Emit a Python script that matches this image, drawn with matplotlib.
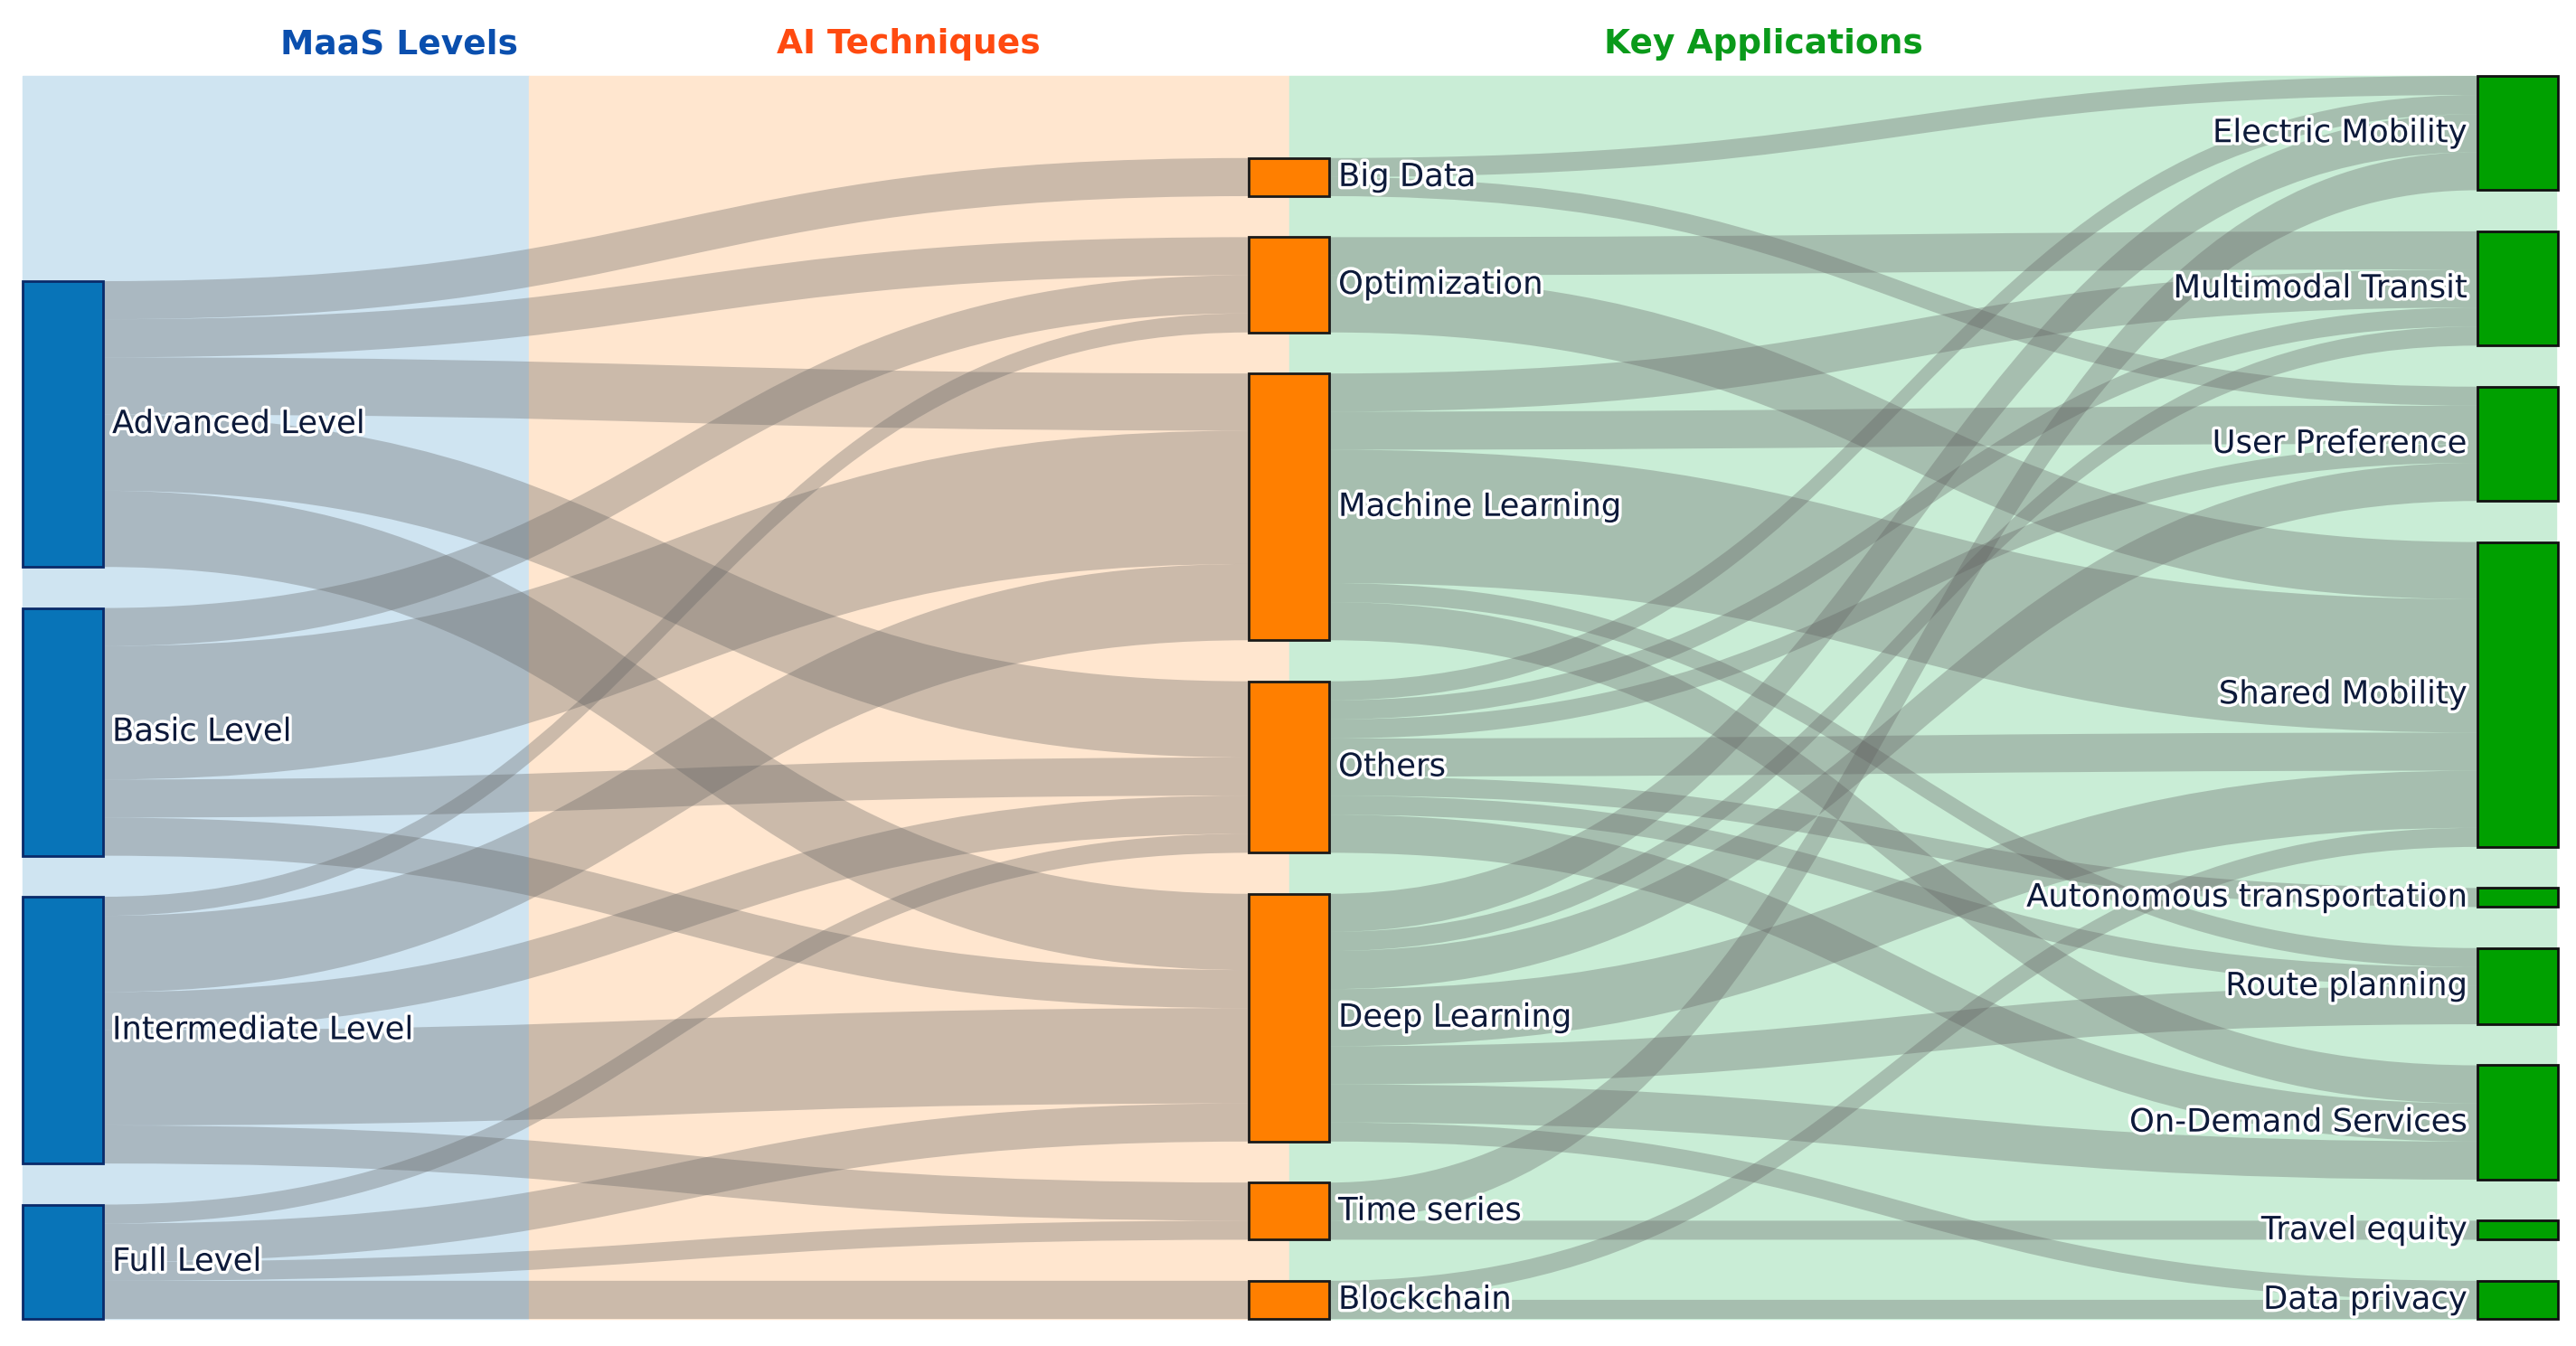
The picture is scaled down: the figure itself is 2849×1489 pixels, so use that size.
import numpy as np
import matplotlib.pyplot as plt
from matplotlib.patches import Rectangle, PathPatch
from matplotlib.path import Path
import matplotlib.patheffects as pe

W, H = 2849, 1489

# ---- data -------------------------------------------------------------
titles = ["MaaS Levels", "AI Techniques", "Key Applications"]
levels = ["Advanced Level", "Basic Level", "Intermediate Level", "Full Level"]
techniques = ["Big Data", "Optimization", "Machine Learning", "Others",
              "Deep Learning", "Time series", "Blockchain"]
applications = ["Electric Mobility", "Multimodal Transit", "User Preference",
                "Shared Mobility", "Autonomous transportation", "Route planning",
                "On-Demand Services", "Travel equity", "Data privacy"]

# MaaS level -> AI technique (rows: levels, cols: techniques)
level_tech = [
    [2, 2, 3, 4, 4, 0, 0],
    [0, 2, 7, 2, 2, 0, 0],
    [0, 1, 4, 2, 5, 2, 0],
    [0, 0, 0, 1, 2, 1, 2],
]
# AI technique -> application (rows: techniques, cols: applications)
tech_app = [
    [1, 0, 1, 0, 0, 0, 0, 0, 0],
    [0, 2, 0, 3, 0, 0, 0, 0, 0],
    [0, 2, 2, 7, 0, 1, 2, 0, 0],
    [1, 1, 1, 2, 1, 1, 2, 0, 0],
    [2, 1, 2, 3, 0, 2, 2, 0, 1],
    [2, 0, 0, 0, 0, 0, 0, 1, 0],
    [0, 0, 0, 1, 0, 0, 0, 0, 1],
]

# ---- layout -----------------------------------------------------------
lt = np.array(level_tech)
ta = np.array(tech_app)
totals = [lt.sum(axis=1), np.maximum(lt.sum(axis=0), ta.sum(axis=1)), ta.sum(axis=0)]
names = [levels, techniques, applications]

col_x = [25, 1381, 2740]
node_w = 89
y_top, y_bot = 84, 1459
pad = 45.4
unit = (y_bot - y_top - (len(applications) - 1) * pad) / totals[2].sum()

node_y = []
for tot in totals:
    span = tot.sum() * unit + (len(tot) - 1) * pad
    y = y_bot - span
    ys = []
    for t in tot:
        ys.append(y)
        y += t * unit + pad
    node_y.append(ys)

fig = plt.figure(figsize=(W / 100, H / 100), dpi=100)
ax = fig.add_axes([0, 0, 1, 1])
ax.set_xlim(0, W)
ax.set_ylim(H, 0)
ax.axis('off')

# background bands
bands = [(25, 585, '#cfe4f1'), (585, 1426, '#ffe6cf'), (1426, 2827, '#c9edd6')]
for x0, x1, c in bands:
    ax.add_patch(Rectangle((x0, y_top), x1 - x0, y_bot - y_top, color=c, zorder=0))

title_x = [441, 1005, 1950]
title_c = ['#0a4fae', '#ff4a10', '#0a9a1a']
for t, x, c in zip(titles, title_x, title_c):
    ax.text(x, 49, t, ha='center', va='center', fontsize=27, color=c,
            fontweight='bold')


def draw_links(mat, ci):
    mat = np.asarray(mat)
    xs = col_x[ci] + node_w
    xt = col_x[ci + 1]
    xm = (xs + xt) / 2
    out_off = [node_y[ci][i] for i in range(mat.shape[0])]
    in_off = [node_y[ci + 1][j] for j in range(mat.shape[1])]
    # source side sorted by target, target side sorted by source
    src_pos = {}
    for i in range(mat.shape[0]):
        for j in range(mat.shape[1]):
            if mat[i, j]:
                src_pos[(i, j)] = out_off[i]
                out_off[i] += mat[i, j] * unit
    for j in range(mat.shape[1]):
        for i in range(mat.shape[0]):
            if mat[i, j]:
                h = mat[i, j] * unit
                s0 = src_pos[(i, j)]
                t0 = in_off[j]
                in_off[j] += h
                verts = [(xs, s0), (xm, s0), (xm, t0), (xt, t0),
                         (xt, t0 + h), (xm, t0 + h), (xm, s0 + h), (xs, s0 + h),
                         (xs, s0)]
                codes = [Path.MOVETO, Path.CURVE4, Path.CURVE4, Path.CURVE4,
                         Path.LINETO, Path.CURVE4, Path.CURVE4, Path.CURVE4,
                         Path.CLOSEPOLY]
                ax.add_patch(PathPatch(Path(verts, codes), facecolor=(0.38, 0.38, 0.38, 0.33),
                                       edgecolor='none', zorder=2))


draw_links(level_tech, 0)
draw_links(tech_app, 1)

node_fc = ['#0874b8', '#ff7f00', '#00a000']
node_ec = ['#0a2a6a', '#1a1a1a', '#111111']
halo = [pe.withStroke(linewidth=5, foreground='white')]
for ci in range(3):
    for k, name in enumerate(names[ci]):
        y0 = node_y[ci][k]
        h = totals[ci][k] * unit
        ax.add_patch(Rectangle((col_x[ci], y0), node_w, h, facecolor=node_fc[ci],
                               edgecolor=node_ec[ci], lw=2, zorder=3))
        yc = y0 + h / 2
        if ci == 2:
            ax.text(col_x[ci] - 11, yc, name, ha='right', va='center', fontsize=25.5,
                    color='#0d1a3a', path_effects=halo, zorder=4)
        else:
            ax.text(col_x[ci] + node_w + 10, yc, name, ha='left', va='center', fontsize=25.5,
                    color='#0d1a3a', path_effects=halo, zorder=4)

plt.savefig('out.png', dpi=100)
